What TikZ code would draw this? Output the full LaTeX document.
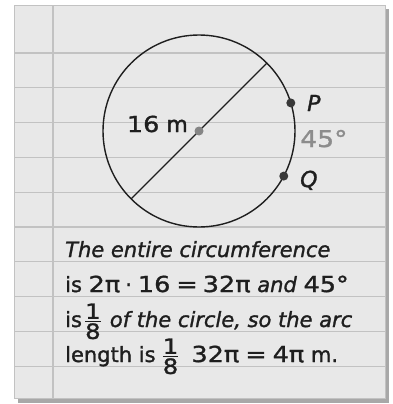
\documentclass[tikz,border=0pt]{standalone}
\usepackage{amsmath}
\usepackage{fontspec}
\setmainfont{DejaVu Sans}[RawFeature={embolden=1.4}]
\newfontfamily\widedigits{DejaVu Sans}[FakeStretch=1.16, FakeBold=1.4]
\usetikzlibrary{calc}
\definecolor{paper}{HTML}{E8E8E8}
\definecolor{ruling}{HTML}{C2C2C2}
\definecolor{shadowgray}{HTML}{A8A8A8}
\definecolor{centergray}{HTML}{858585}
\definecolor{dotdark}{HTML}{383838}
\definecolor{anglegray}{HTML}{8C8C8C}
\definecolor{inkblack}{HTML}{1E1E1E}
\newcommand{\notefrac}[2]{$\genfrac{}{}{1pt}{1}{\textstyle\text{\widedigits #1}}{\textstyle\text{\widedigits #2}}$}
\newcommand{\numpart}[1]{{\widedigits\fontsize{22}{26}\selectfont #1}}

\begin{document}
\begin{tikzpicture}[x=1pt,y=-1pt,
    dot/.style={circle, fill=dotdark, inner sep=0pt, minimum size=9pt},
    lbl/.style={anchor=base west, inner sep=0pt, text=inkblack,
                font=\fontsize{22}{24}\selectfont},
    note/.style={anchor=base west, inner sep=0pt, text=inkblack,
                 font=\fontsize{21}{24}\selectfont}]
  \useasboundingbox (0,0) rectangle (393,404);
  % paper sheet
  \fill[shadowgray] (18,9) rectangle (389,403);
  \fill[paper, draw=ruling, line width=0.8pt] (14,5) rectangle (385,398);
  \foreach \i in {0,...,9}
    \draw[ruling, line width=1.3pt] (14.4,53+34.8*\i) -- (384.6,53+34.8*\i);
  \draw[ruling, line width=1.6pt] (53,5.4) -- (53,397.6);
  % circle and diameter
  \coordinate (ctr) at (199,131);
  \draw[inkblack, line width=1.4pt] (ctr) circle[radius=96pt];
  \coordinate (diamA) at ($(ctr)+(45:96pt)$);
  \coordinate (diamB) at ($(ctr)+(225:96pt)$);
  \draw[inkblack, line width=1.1pt] (diamA) -- (diamB);
  \node[dot, fill=centergray] (O) at (ctr) {};
  \node[dot] (P) at ($(ctr)+(17:96pt)$) {};
  \node[dot] (Q) at ($(ctr)+(-28:96pt)$) {};
  % labels
  \node[lbl, anchor=base east] (diamlabel) at (188,132) {\numpart{16} m};
  \node[lbl] (Plabel) at (307,111) {\textit{P}};
  \node[lbl] (Qlabel) at (300,187) {\textit{Q}};
  \node[lbl, text=anglegray, font=\widedigits\fontsize{23}{26}\selectfont] (anglelabel) at (300,147) {45°};
  % worked solution
  \node[note] (lineA) at (65,257) {\textit{The entire circumference}};
  \node[note] (lineB) at (65,292) {is \numpart{2π}\hspace{5pt}·\hspace{6pt}\numpart{16}\hspace{6pt}\numpart{=}\hspace{5pt}\numpart{32π} \textit{and} \numpart{45°}};
  \node[note] (lineC) at (65,327) {is\hspace{2pt}\notefrac{1}{8}\hspace{8pt}\textit{of the circle, so the arc}};
  \node[note] (lineD) at (65,362) {length is\hspace{6pt}\notefrac{1}{8}\hspace{12pt}\numpart{32π}\hspace{6pt}\numpart{=}\hspace{6pt}\numpart{4π} m.};
\end{tikzpicture}
\end{document}
